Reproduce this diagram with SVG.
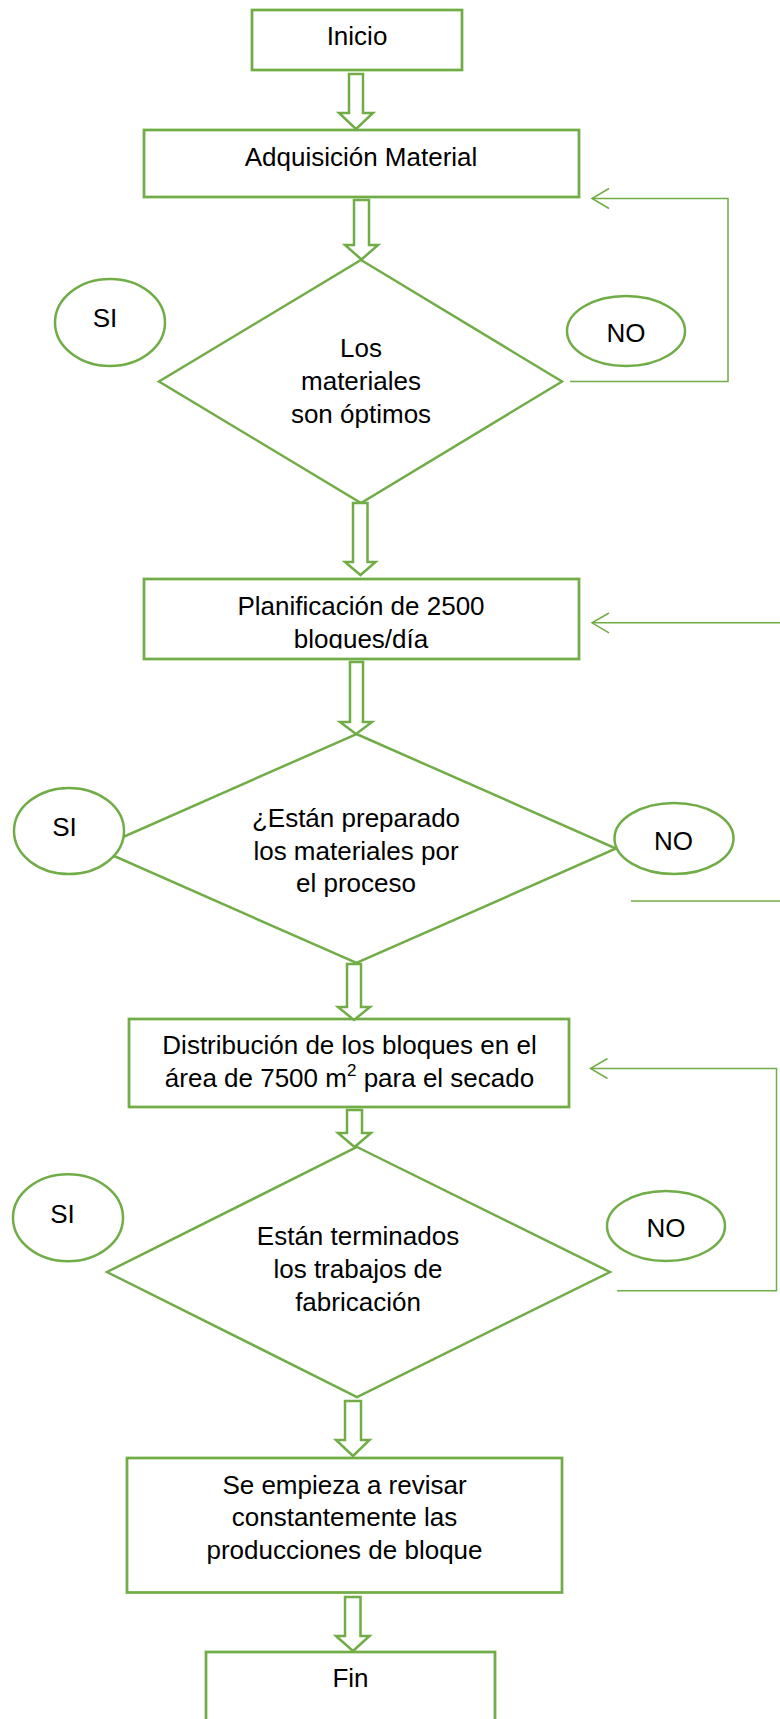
<svg xmlns="http://www.w3.org/2000/svg" width="780" height="1719" viewBox="0 0 780 1719">
<style>
.box{fill:#fff;stroke:#70AD47;stroke-width:2.75}
.dia{fill:#fff;stroke:#70AD47;stroke-width:2.5}
.ell{fill:#fff;stroke:#70AD47;stroke-width:2.5}
.blk{fill:#fff;stroke:#70AD47;stroke-width:2.5;stroke-linejoin:miter}
.fb{fill:none;stroke:#70AD47;stroke-width:1.5}
text{font-family:"Liberation Sans",Arial,sans-serif;font-size:26px;fill:#000;text-anchor:middle}
</style>
<defs>
<clipPath id="clipPlan"><rect x="140" y="575" width="445" height="73.5"/></clipPath>
</defs>
<rect width="780" height="1719" fill="#fff"/>

<g id="n-inicio">
<rect class="box" x="252" y="10" width="210" height="60"/>
<text x="357" y="45">Inicio</text>
</g>

<g id="n-adquisicion">
<rect class="box" x="144" y="130" width="435" height="67"/>
<text x="361" y="166">Adquisición Material</text>
</g>

<g id="n-decision1">
<polygon class="dia" points="361,260 562,381.5 361,503 159,381.5"/>
<text x="361" y="357">Los</text>
<text x="361" y="390">materiales</text>
<text x="361" y="423">son óptimos</text>
</g>

<g id="n-si1">
<ellipse class="ell" cx="110" cy="322.5" rx="55" ry="43.5"/>
<text x="105" y="327">SI</text>
</g>

<g id="n-no1">
<ellipse class="ell" cx="626" cy="331" rx="59" ry="35"/>
<text x="626" y="341.5">NO</text>
</g>

<g id="n-planificacion">
<rect class="box" x="144" y="579" width="435" height="80"/>
<g clip-path="url(#clipPlan)">
<text x="361" y="614.5">Planificación de 2500</text>
<text x="361" y="647.5">bloques/día</text>
</g>
</g>

<g id="n-decision2">
<polygon class="dia" points="356.5,734 616,848.5 356.5,963 97,848.5"/>
<text x="356" y="827">¿Están preparado</text>
<text x="356" y="859.5">los materiales por</text>
<text x="356" y="892">el proceso</text>
</g>

<g id="n-si2">
<ellipse class="ell" cx="69" cy="831" rx="55" ry="43"/>
<text x="64.5" y="836">SI</text>
</g>

<g id="n-no2">
<ellipse class="ell" cx="674" cy="838.5" rx="59.5" ry="35.5"/>
<text x="673.5" y="850">NO</text>
</g>

<g id="n-distribucion">
<rect class="box" x="129" y="1019" width="440" height="88"/>
<text x="349.5" y="1053.5">Distribución de los bloques en el</text>
<text x="349.5" y="1087">área de 7500 m<tspan font-size="17" dy="-11">2</tspan><tspan dy="11"> para el secado</tspan></text>
</g>

<g id="n-decision3">
<polygon class="dia" points="357,1147 610,1272 357,1397 107,1272"/>
<text x="358" y="1245">Están terminados</text>
<text x="358" y="1278">los trabajos de</text>
<text x="358" y="1310.5">fabricación</text>
</g>

<g id="n-si3">
<ellipse class="ell" cx="68" cy="1217.7" rx="55" ry="43.5"/>
<text x="62.5" y="1222.5">SI</text>
</g>

<g id="n-no3">
<ellipse class="ell" cx="666" cy="1226" rx="59" ry="35"/>
<text x="666" y="1237">NO</text>
</g>

<g id="n-revisar">
<rect class="box" x="127" y="1458" width="435" height="134.5"/>
<text x="344.5" y="1493.5">Se empieza a revisar</text>
<text x="344.5" y="1526">constantemente las</text>
<text x="344.5" y="1558.5">producciones de bloque</text>
</g>

<g id="n-fin">
<rect class="box" x="206" y="1652" width="289" height="90"/>
<text x="350.5" y="1687">Fin</text>
</g>

<g id="connectors">
<path class="blk" d="M349,74 H363 V113 H373 L356,129 L339,113 H349 Z"/>
<path class="blk" d="M354,200 H369 V245 H378 L361.5,259.5 L345,245 H354 Z"/>
<path class="blk" d="M353,503 H367.5 V562 H375.5 L360.5,575 L345,562 H353 Z"/>
<path class="blk" d="M350,662 H363 V722 H372 L356,734 L340,722 H350 Z"/>
<path class="blk" d="M347,964 H361 V1007 H370 L354,1020 L338,1007 H347 Z"/>
<path class="blk" d="M347,1110 H362 V1133 H371 L354.5,1147 L338,1133 H347 Z"/>
<path class="blk" d="M345,1401 H361 V1440 H369.5 L353,1456 L336,1440 H345 Z"/>
<path class="blk" d="M345,1597 H360.5 V1636 H369.5 L353,1651 L336,1636 H345 Z"/>

<path class="fb" d="M570,381.5 H728 V198.5 H592"/>
<path class="fb" d="M609,188.5 L592,198.5 L609,208.5"/>

<path class="fb" d="M780,622.8 H592"/>
<path class="fb" d="M609,613 L592,622.8 L609,632.8"/>
<path class="fb" d="M631,901 H780"/>

<path class="fb" d="M617,1290.7 H776.5 V1068.5 H590.5"/>
<path class="fb" d="M607.5,1058.5 L590.5,1068.5 L607.5,1078.5"/>
</g>
</svg>
